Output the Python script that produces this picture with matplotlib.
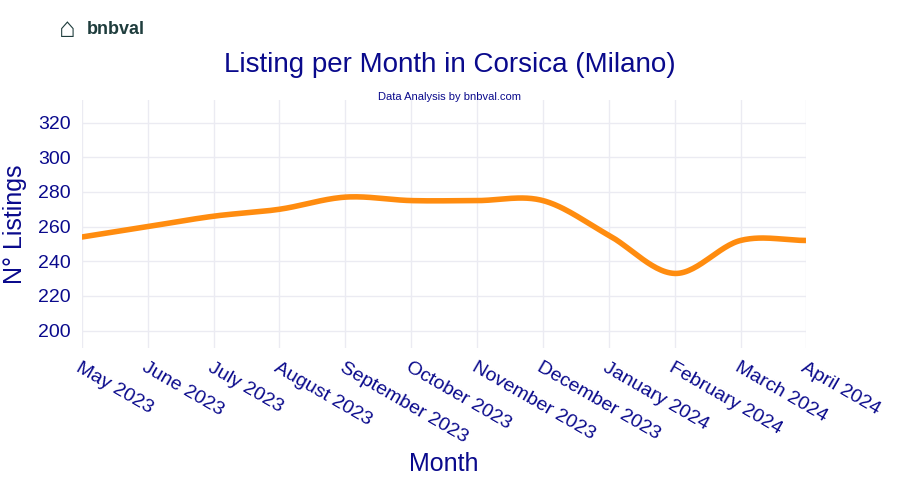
import matplotlib
matplotlib.use("Agg")
import matplotlib.pyplot as plt
import numpy as np

months = ["May 2023", "June 2023", "July 2023", "August 2023", "September 2023",
          "October 2023", "November 2023", "December 2023", "January 2024",
          "February 2024", "March 2024", "April 2024"]
listings = [254, 260, 266, 270, 277, 275, 275, 275, 255, 233, 252, 252]
y_ticks = [200, 220, 240, 260, 280, 300, 320]

NAVY = "#0a0a8c"
plt.rcParams["font.family"] = "Liberation Sans"


def catmull_rom(x, y, n=30):
    # smooth curve through the points, like plotly's spline shape
    x = np.asarray(x, float); y = np.asarray(y, float)
    px = np.concatenate([[2 * x[0] - x[1]], x, [2 * x[-1] - x[-2]]])
    py = np.concatenate([[2 * y[0] - y[1]], y, [2 * y[-1] - y[-2]]])
    xs, ys = [], []
    t = np.linspace(0, 1, n)
    for i in range(1, len(px) - 2):
        for p, out in ((px, xs), (py, ys)):
            p0, p1, p2, p3 = p[i - 1:i + 3]
            out.extend(0.5 * ((2 * p1) + (-p0 + p2) * t
                              + (2 * p0 - 5 * p1 + 4 * p2 - p3) * t ** 2
                              + (-p0 + 3 * p1 - 3 * p2 + p3) * t ** 3))
    return np.array(xs), np.array(ys)


fig = plt.figure(figsize=(9, 5), dpi=100)
ax = fig.add_axes([0.091, 0.304, 0.805, 0.496])

x = np.arange(len(months))
sx, sy = catmull_rom(x, listings)
ax.plot(sx, sy, color="#ff8c0f", lw=4, solid_capstyle="round", zorder=3)

ax.set_xlim(0, len(months) - 1)
ax.set_ylim(190, 333)
ax.set_yticks(y_ticks)
ax.set_xticks(x)
ax.set_xticklabels(months, rotation=-30, ha="left", rotation_mode="anchor",
                   fontsize=14, color=NAVY)
ax.tick_params(axis="y", labelsize=14, labelcolor=NAVY, length=0, pad=8)
ax.tick_params(axis="x", length=0, pad=8)
ax.grid(color="#ebebf2", lw=1)
for s in ax.spines.values():
    s.set_visible(False)

ax.set_ylabel("N° Listings", fontsize=18, color=NAVY, labelpad=8)
ax.set_xlabel("Month", fontsize=18, color=NAVY, labelpad=4)

fig.text(0.5, 0.857, "Listing per Month in Corsica (Milano)", ha="center",
         fontsize=20, color=NAVY)
fig.text(0.5, 0.8, "Data Analysis by bnbval.com", ha="center",
         fontsize=8, color=NAVY)
fig.text(0.097, 0.94, "bnbval", fontsize=13, fontweight="bold", color="#1f3d3d",
         va="center")
fig.text(0.075, 0.94, "⌂", fontsize=20, color="#1f3d3d", va="center", ha="center")

fig.savefig("out.png", dpi=100)
